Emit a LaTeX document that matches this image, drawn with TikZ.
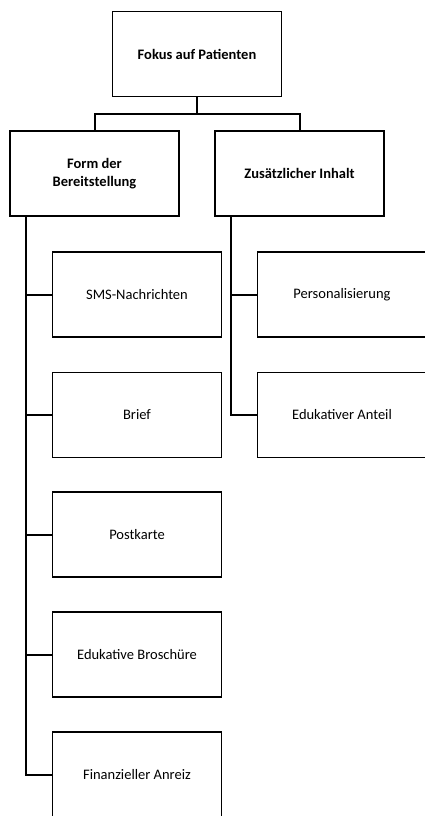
\documentclass[tikz,border=0pt]{standalone}
\usepackage{fontspec}
\setmainfont{Carlito}
\usepackage{tikz}
\usetikzlibrary{positioning}

\tikzset{
	kasten/.style={draw, line width=1.5pt, minimum width=169pt, minimum height=85pt,
		inner sep=2pt, align=center, font=\fontsize{14.5}{17.5}\selectfont},
	kopf/.style={kasten, font=\fontsize{14.5}{17.5}\selectfont\bfseries},
	ast/.style={line width=2pt}
}

\begin{document}
\begin{tikzpicture}[x=1pt,y=-1pt]
	\useasboundingbox (0,0) rectangle (425,816);
	\clip (0,0) rectangle (425,816);
	% nodes
	\node[kopf] (fokus) at (197,54) {Fokus auf Patienten};
	\node[kopf] (form) at (94.5,173.5) {Form der\\Bereitstellung};
	\node[kopf] (inhalt) at (299.5,173.5) {Zusätzlicher Inhalt};
	%
	\node[kasten] (sms) at (137,294.5) {SMS-Nachrichten};
	\node[kasten] (brief) at (137,415) {Brief};
	\node[kasten] (karte) at (137,534.5) {Postkarte};
	\node[kasten] (broschuere) at (137,654.5) {Edukative Broschüre};
	\node[kasten] (anreiz) at (137,774.5) {Finanzieller Anreiz};
	%
	\node[kasten] (person) at (342,294.5) {Personalisierung};
	\node[kasten] (anteil) at (342,415) {Edukativer Anteil};
	% junctions
	\coordinate (j) at (197,114);
	\coordinate (fl) at ([xshift=17pt]form.south west);
	\coordinate (il) at ([xshift=17pt]inhalt.south west);
	%
	\path[ast]
	% top level
	(fokus) edge (j)
	(j) edge[to path={-| (\tikztotarget)}] (form.north)
	(j) edge[to path={-| (\tikztotarget)}] (inhalt.north)
	% trunks
	(fl) edge[to path={|- (\tikztotarget)}] (anreiz.west)
	(il) edge[to path={|- (\tikztotarget)}] (anteil.west);
	% branches
	\foreach \k in {sms,brief,karte,broschuere}
		\draw[ast] (\k.west) -- (\k.west -| fl);
	\draw[ast] (person.west) -- (person.west -| il);
\end{tikzpicture}
\end{document}
